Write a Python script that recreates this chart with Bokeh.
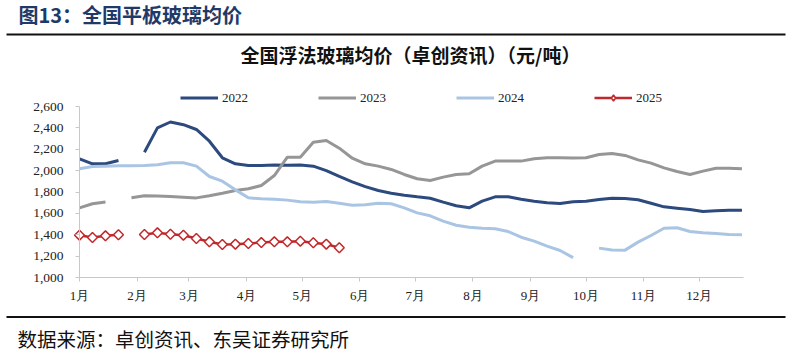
import math
from bokeh.plotting import figure
from bokeh.core.properties import value
from bokeh.models import (Range1d, FixedTicker, NumeralTickFormatter,
                          Legend, LegendItem)
from bokeh.embed import file_html
from bokeh.resources import INLINE

nan = float("nan")

# ---- data -------------------------------------------------------------
month_labels = ["1月", "2月", "3月", "4月", "5月", "6月",
                "7月", "8月", "9月", "10月", "11月", "12月"]
month_start_day = [0, 31, 59, 90, 120, 151, 181, 212, 243, 273, 304, 334]
y_ticks = [1000, 1200, 1400, 1600, 1800, 2000, 2200, 2400, 2600]
series_names = ["2022", "2023", "2024", "2025"]

week_index = list(range(52))

price_2022 = [2110, 2064, 2064, 2095, nan, 2172, 2400, 2455, 2430, 2385,
              2275, 2120, 2064, 2048, 2048, 2052, 2050, 2052, 2042, 2000,
              1946, 1895, 1850, 1814, 1789, 1770, 1755, 1742, 1705, 1671,
              1652, 1714, 1755, 1755, 1733, 1714, 1699, 1692, 1708, 1714,
              1730, 1742, 1739, 1727, 1695, 1661, 1649, 1636, 1617, 1624,
              1630, 1630]

price_2023 = [1652, 1690, 1706, nan, 1746, 1764, 1762, 1757, 1752, 1745,
              1765, 1789, 1814, 1830, 1861, 1954, 2126, 2126, 2266, 2282,
              2210, 2116, 2064, 2042, 2011, 1964, 1924, 1908, 1939, 1964,
              1970, 2042, 2089, 2089, 2089, 2111, 2120, 2120, 2118, 2120,
              2151, 2160, 2142, 2101, 2070, 2026, 1992, 1964, 1995, 2023,
              2023, 2017]

price_2024 = [2017, 2039, 2042, 2045, 2045, 2048, 2055, 2073, 2073, 2042,
              1945, 1901, 1820, 1746, 1736, 1733, 1724, 1708, 1705, 1711,
              1695, 1677, 1680, 1695, 1690, 1652, 1605, 1577, 1527, 1489,
              1471, 1461, 1456, 1430, 1377, 1340, 1293, 1253, 1186, nan,
              1275, 1257, 1256, 1331, 1393, 1461, 1465, 1430, 1418, 1412,
              1402, 1400]

price_2025 = [1396, 1374, 1390, 1400, nan, 1402, 1418, 1405, 1396, 1365,
              1334, 1309, 1312, 1318, 1327, 1334, 1334, 1340, 1325, 1312,
              1278]

header_text = "图13：全国平板玻璃均价"
chart_title = "全国浮法玻璃均价（卓创资讯）（元/吨）"
source_text = "数据来源：卓创资讯、东吴证券研究所"

days = [7 * i for i in week_index]

# ---- layout (pixels) ----------------------------------------------------
W, H = 791, 357
FRAME_L, FRAME_R, FRAME_T, FRAME_B = 79.0, 743.3, 106.0, 277.0
X_MIN, X_MAX = 0, 358
Y_MIN, Y_MAX = y_ticks[0], y_ticks[-1]
ppx = (FRAME_R - FRAME_L) / (X_MAX - X_MIN)
ppy = (FRAME_B - FRAME_T) / (Y_MAX - Y_MIN)

# ---- styles -------------------------------------------------------------
C22 = "#2C4A7E"
C23 = "#969696"
C24 = "#A9C5E3"
C25 = "#C0282B"
AXIS = "#C8C8C8"
SERIF = "Liberation Serif"
CJK = "Noto Sans CJK SC"

p = figure(width=W, height=H, output_backend="svg", toolbar_location=None,
           x_range=Range1d(X_MIN - FRAME_L / ppx, X_MIN + (W - FRAME_L) / ppx),
           y_range=Range1d(Y_MIN - (H - FRAME_B) / ppy, Y_MIN + FRAME_B / ppy),
           min_border=0, min_border_left=0, min_border_right=0,
           min_border_top=0, min_border_bottom=0)
p.extra_x_ranges = {"px": Range1d(0, W)}
p.extra_y_ranges = {"px": Range1d(H, 0)}
p.xgrid.visible = False
p.ygrid.visible = False
p.outline_line_color = None
p.background_fill_color = "white"
p.border_fill_color = "white"

# y axis, drawn at day 0
p.yaxis.fixed_location = X_MIN
p.yaxis.bounds = (Y_MIN, Y_MAX)
p.yaxis.ticker = FixedTicker(ticks=y_ticks)
p.yaxis.formatter = NumeralTickFormatter(format="0,0")
p.yaxis.axis_line_color = AXIS
p.yaxis.major_tick_line_color = AXIS
p.yaxis.major_tick_out = 4
p.yaxis.major_tick_in = 0
p.yaxis.minor_tick_line_color = None
p.yaxis.major_label_text_font = SERIF
p.yaxis.major_label_text_font_size = "13.5px"
p.yaxis.major_label_text_color = "#222222"
p.yaxis.major_label_standoff = 12

# x axis, drawn at the 1,000 level
p.xaxis.fixed_location = Y_MIN
p.xaxis.bounds = (X_MIN, X_MAX)
p.xaxis.ticker = FixedTicker(ticks=month_start_day)
p.xaxis.major_label_overrides = {d: m for d, m in zip(month_start_day, month_labels)}
p.xaxis.axis_line_color = AXIS
p.xaxis.major_tick_line_color = AXIS
p.xaxis.major_tick_out = 4
p.xaxis.major_tick_in = 0
p.xaxis.minor_tick_line_color = None
p.xaxis.major_label_text_font = SERIF
p.xaxis.major_label_text_font_size = "13px"
p.xaxis.major_label_text_color = "#222222"
p.xaxis.major_label_standoff = 6

# series
l22 = p.line(days, price_2022, line_color=C22, line_width=3)
l23 = p.line(days, price_2023, line_color=C23, line_width=3)
l24 = p.line(days, price_2024, line_color=C24, line_width=3)
d25 = days[:len(price_2025)]
l25 = p.line(d25, price_2025, line_color=C25, line_width=2.5)
m25 = p.scatter(d25, price_2025, marker="square", angle=math.pi / 4, size=7,
                fill_color="white", line_color=C25, line_width=1.5)
# legend-only symbol (a single undefined point, never drawn in the plot)
k25 = p.scatter([nan], [nan], marker="diamond", size=11,
                fill_color="white", line_color=C25, line_width=1.5)

legend = Legend(items=[LegendItem(label=series_names[0], renderers=[l22]),
                       LegendItem(label=series_names[1], renderers=[l23]),
                       LegendItem(label=series_names[2], renderers=[l24]),
                       LegendItem(label=series_names[3], renderers=[l25, k25])],
                orientation="horizontal", location=(180, H - 98 - 7.5),
                glyph_width=38, glyph_height=15, label_height=15, label_width=20,
                label_standoff=4, spacing=70, padding=0, margin=0,
                border_line_color=None, background_fill_alpha=0,
                label_text_font=SERIF, label_text_font_size="13px",
                label_text_color="#222222")
p.add_layout(legend)

# header / footer in pixel coordinates
px = dict(x_range_name="px", y_range_name="px")
p.text(x=[18], y=[14], text=[header_text], text_font=value(CJK),
       text_font_style="bold", text_font_size="20px", text_color="#1F3A68",
       text_align="left", text_baseline="middle", **px)
p.segment(x0=[6], y0=[34], x1=[785], y1=[34], line_color="#111111", line_width=2, **px)
p.text(x=[410], y=[54], text=[chart_title], text_font=value(CJK),
       text_font_style="bold", text_font_size="19px", text_color="#111111",
       text_align="center", text_baseline="middle", **px)
p.segment(x0=[6], y0=[316.5], x1=[785], y1=[316.5], line_color="#111111", line_width=2, **px)
p.text(x=[17], y=[338], text=[source_text], text_font=value(CJK),
       text_font_size="19.5px", text_color="#111111",
       text_align="left", text_baseline="middle", **px)

open("out.html", "w").write(file_html(p, INLINE))
